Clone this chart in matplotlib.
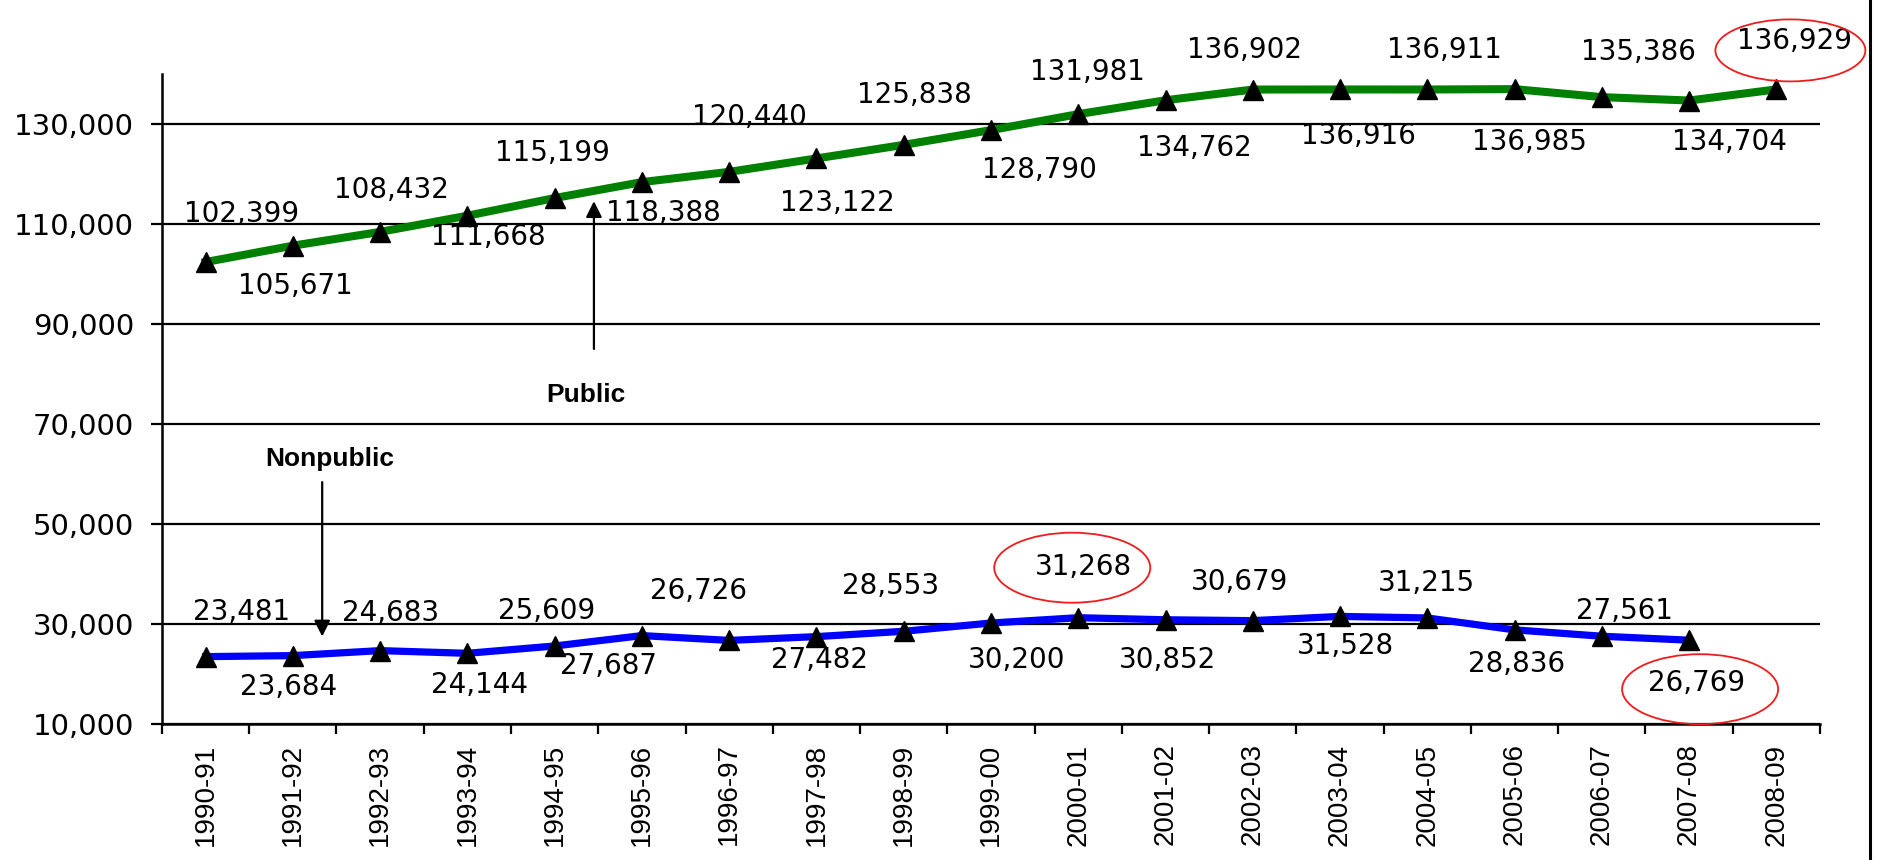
import numpy as np
import matplotlib.pyplot as plt
from matplotlib.patches import Ellipse
from matplotlib.lines import Line2D
from matplotlib.transforms import IdentityTransform
from matplotlib.ticker import FuncFormatter

plt.rcParams['font.family'] = 'DejaVu Sans'

# school counts by year
years = ['1990-91', '1991-92', '1992-93', '1993-94', '1994-95', '1995-96',
         '1996-97', '1997-98', '1998-99', '1999-00', '2000-01', '2001-02',
         '2002-03', '2003-04', '2004-05', '2005-06', '2006-07', '2007-08',
         '2008-09']
public = [102399, 105671, 108432, 111668, 115199, 118388, 120440, 123122,
          125838, 128790, 131981, 134762, 136902, 136916, 136911, 136985,
          135386, 134704, 136929]
nonpublic = [23481, 23684, 24683, 24144, 25609, 27687, 26726, 27482, 28553,
             30200, 31268, 30852, 30679, 31528, 31215, 28836, 27561, 26769]
yticks = [10000, 30000, 50000, 70000, 90000, 110000, 130000]

# label placement, pixels (dx right, dy down) from each marker
pub_off = [(36, -48), (3, 40), (11, -42), (21, 21), (-2, -45), (21, 31),
           (20, -55), (21, 45), (11, -50), (48, 40), (9, -42), (29, 48),
           (-8, -40), (18, 47), (17, -39), (15, 53), (37, -45), (40, 41),
           (18, -48)]
non_off = [(36, -45), (-4, 31), (10, -38), (12, 32), (-8, -35), (-33, 30),
           (-31, -49), (3, 23), (-13, -45), (26, 37), (5, -51), (2, 40),
           (-13, -39), (5, 30), (-1, -35), (2, 34), (23, -25), (7, 43)]
# circled labels: (series, index, ellipse dx, dy from label, w, h) in pixels
circled = [('public', 18, -4, 9, 150, 62),
           ('nonpublic', 10, -11, 1, 156, 70),
           ('nonpublic', 17, 4, 6, 156, 70)]

fig = plt.figure(figsize=(18.79, 8.6), dpi=100)
ax = fig.add_axes([0.0862, 0.1581, 0.8824, 0.7558])

x = np.arange(len(years)) + 0.5
ax.plot(x, public, color='#008000', lw=5.8, zorder=3)
ax.plot(x[:len(nonpublic)], nonpublic, color='#0000ff', lw=5.2, zorder=3)
ax.plot(x, public, ls='none', marker='^', ms=15, color='black', zorder=4)
ax.plot(x[:len(nonpublic)], nonpublic, ls='none', marker='^', ms=15,
        color='black', zorder=4)

ax.set_xlim(0, len(years))
ax.set_ylim(10000, 140000)
ax.set_yticks(yticks)
ax.yaxis.set_major_formatter(FuncFormatter(lambda v, p: f'{int(v):,}'))
ax.set_xticks(np.arange(len(years) + 1))
ax.set_xticklabels([])
ax.set_xticks(x, minor=True)
ax.set_xticklabels(years, minor=True, rotation=90, fontsize=20,
                   family='Liberation Sans')
ax.tick_params(axis='x', which='major', length=7, width=1.6, direction='out')
ax.tick_params(axis='x', which='minor', length=0, pad=14)
ax.tick_params(axis='y', length=8, width=1.6, labelsize=21, pad=12)
ax.yaxis.grid(True, color='black', lw=1.6, zorder=1)
ax.set_axisbelow(True)
for s in ['top', 'right']:
    ax.spines[s].set_visible(False)
for s in ['left', 'bottom']:
    ax.spines[s].set_linewidth(1.8)

texts = {}
for name, vals, offs in [('public', public, pub_off),
                         ('nonpublic', nonpublic, non_off)]:
    for i, v in enumerate(vals):
        dx, dy = offs[i]
        ax.annotate(f'{v:,}', (x[i], v), xytext=(dx, -dy),
                    textcoords='offset pixels', ha='center', va='center',
                    fontsize=20, zorder=5)
        texts[(name, i)] = (x[i], v, dx, dy)

# series labels with arrows
ax.annotate('', xy=(4.95, 115140), xytext=(4.95, 84460),
            arrowprops=dict(arrowstyle='-|>', color='black', lw=1.6,
                            mutation_scale=24))
ax.text(4.86, 75800, 'Public', ha='center', va='center', fontsize=19,
        fontweight='bold', family='Liberation Sans')
ax.annotate('', xy=(1.836, 26940), xytext=(1.836, 58940),
            arrowprops=dict(arrowstyle='-|>', color='black', lw=1.6,
                            mutation_scale=24))
ax.text(1.925, 62940, 'Nonpublic', ha='center', va='center', fontsize=19,
        fontweight='bold', family='Liberation Sans')

for name, i, ex, ey, w, h in circled:
    xi, v, dx, dy = texts[(name, i)]
    cx, cy = ax.transData.transform((xi, v))
    ell = Ellipse((cx + dx + ex, cy - dy - ey), w, h, fill=False,
                  edgecolor='#ee1c1c', lw=1.3, transform=IdentityTransform(),
                  clip_on=False, zorder=6)
    ax.add_artist(ell)

fig.add_artist(Line2D([0.9952, 0.9952], [0, 1], transform=fig.transFigure,
                      color='black', lw=2.2))

plt.savefig('out.png', dpi=100)
